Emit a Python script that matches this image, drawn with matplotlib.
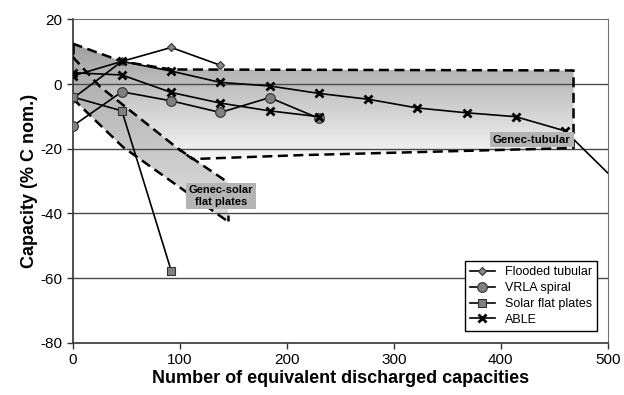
import numpy as np
import matplotlib
matplotlib.use('Agg')
import matplotlib.pyplot as plt
from matplotlib.patches import Polygon

plt.rcParams['font.family'] = ['Liberation Sans', 'DejaVu Sans']

# data
flooded_x = [0, 46, 92, 138]
flooded_y = [-4.5, 7.0, 11.3, 5.8]

vrla_x = [0, 46, 92, 138, 184, 230]
vrla_y = [-13.0, -2.4, -5.2, -8.8, -4.2, -10.6]

solar_x = [0, 46, 92]
solar_y = [-4.0, -8.3, -57.7]

able1_x = [0, 46, 92, 138, 184, 230, 276, 322, 368, 414, 460, 500]
able1_y = [2.5, 7.0, 4.0, 0.5, -0.6, -2.9, -4.7, -7.4, -8.9, -10.1, -14.5, -27.5]

able2_x = [0, 46, 92, 138, 184, 230]
able2_y = [3.5, 2.8, -2.6, -5.9, -8.3, -10.1]

# envelope regions (Genec data)
tub_x = [0, 46, 92, 468, 468, 213, 112, 98.5, 25.5, 0]
tub_y = [12.5, 7.0, 4.5, 4.2, -19.8, -22.0, -23.2, -20.0, -0.8, 8.4]

sol_up_x = [0, 25.5, 98.5, 145]
sol_up_y = [8.4, -0.8, -20.0, -30.4]
sol_lo_x = [0, 47, 145]
sol_lo_y = [-4.5, -19.5, -42.5]

fig = plt.figure(figsize=(6.24, 3.95), dpi=100)
ax = fig.add_axes([0.1165, 0.1324, 0.8575, 0.8186])
ax.set_xlim(0, 500)
ax.set_ylim(-80, 20)

# gradient fills clipped to the envelope polygons
def grad_fill(xs, ys, top, bot, y0, y1):
    poly = Polygon(np.column_stack([xs, ys]), closed=True, facecolor='none',
                   edgecolor='none', transform=ax.transData)
    ax.add_patch(poly)
    g = np.linspace(top, bot, 256).reshape(-1, 1)
    im = ax.imshow(g, cmap='gray', vmin=0, vmax=1, aspect='auto',
                   extent=[0, 500, y0, y1], origin='upper',
                   interpolation='bilinear', zorder=1)
    im.set_clip_path(poly)

sol_poly_x = sol_up_x + sol_lo_x[::-1]
sol_poly_y = sol_up_y + sol_lo_y[::-1]
grad_fill(sol_poly_x, sol_poly_y, 0.64, 0.88, -43, 12.5)
grad_fill(tub_x, tub_y, 0.62, 0.97, -23.5, 12.5)
ax.set_xlim(0, 500)
ax.set_ylim(-80, 20)

dash = dict(color='black', lw=1.8, ls=(0, (4, 2.2)), zorder=3)
ax.plot(tub_x[:8], tub_y[:8], **dash)
ax.plot([0, 0], [12.5, 8.4], **dash)
ax.plot(sol_up_x, sol_up_y, **dash)
ax.plot(sol_lo_x, sol_lo_y, **dash)
ax.plot([145, 145], [-42.5, -40.5], **dash)

# grid lines
for gy in [0, -20, -40, -60]:
    ax.axhline(gy, color='#4a4a4a', lw=1.0, zorder=2)

ax.plot(flooded_x, flooded_y, color='black', lw=1.2, marker='D', ms=4.5,
        mfc='#888888', mec='#333333', mew=0.8, zorder=5, label='Flooded tubular')
ax.plot(vrla_x, vrla_y, color='black', lw=1.2, marker='o', ms=7,
        mfc='#808080', mec='#333333', mew=0.8, zorder=5, label='VRLA spiral')
ax.plot(solar_x, solar_y, color='black', lw=1.2, marker='s', ms=6,
        mfc='#808080', mec='#333333', mew=0.8, zorder=5, label='Solar flat plates')
ax.plot(able1_x[:-1], able1_y[:-1], color='black', lw=1.2, marker='x', ms=6,
        mew=2, zorder=6, label='ABLE')
ax.plot(able1_x[-2:], able1_y[-2:], color='black', lw=1.2, zorder=6)
ax.plot(able2_x, able2_y, color='black', lw=1.2, marker='x', ms=6,
        mew=2, zorder=6)

# region labels
box = dict(boxstyle='square,pad=0.25', facecolor='#b4b4b4', edgecolor='none')
ax.text(429, -17.2, 'Genec-tubular', fontsize=8.2, fontweight='bold',
        ha='center', va='center', bbox=box, zorder=7)
ax.text(138.5, -34.6, 'Genec-solar\nflat plates', fontsize=8, fontweight='bold',
        ha='center', va='center', bbox=box, zorder=7, linespacing=1.15)

ax.set_xticks([0, 100, 200, 300, 400, 500])
ax.set_yticks([20, 0, -20, -40, -60, -80])
ax.set_yticklabels(['20', '0', '-20', '-40', '-60', '-80'])
ax.tick_params(direction='out', labelsize=11, length=4, width=1, color='#333333')
for s in ['top', 'right']:
    ax.spines[s].set_color('#707070')
for s in ['left', 'bottom']:
    ax.spines[s].set_color('#333333')
    ax.spines[s].set_linewidth(1.2)

ax.set_xlabel('Number of equivalent discharged capacities', fontsize=13,
              fontweight='bold', labelpad=2)
ax.set_ylabel('Capacity (% C nom.)', fontsize=13, fontweight='bold', labelpad=2)

leg = ax.legend(loc='lower right', bbox_to_anchor=(0.991, 0.018), fontsize=9,
                frameon=True, fancybox=False, edgecolor='black', framealpha=1,
                handlelength=2.0, borderpad=0.4, labelspacing=0.3)
leg.get_frame().set_linewidth(1.0)

fig.savefig('out.png', dpi=100)
